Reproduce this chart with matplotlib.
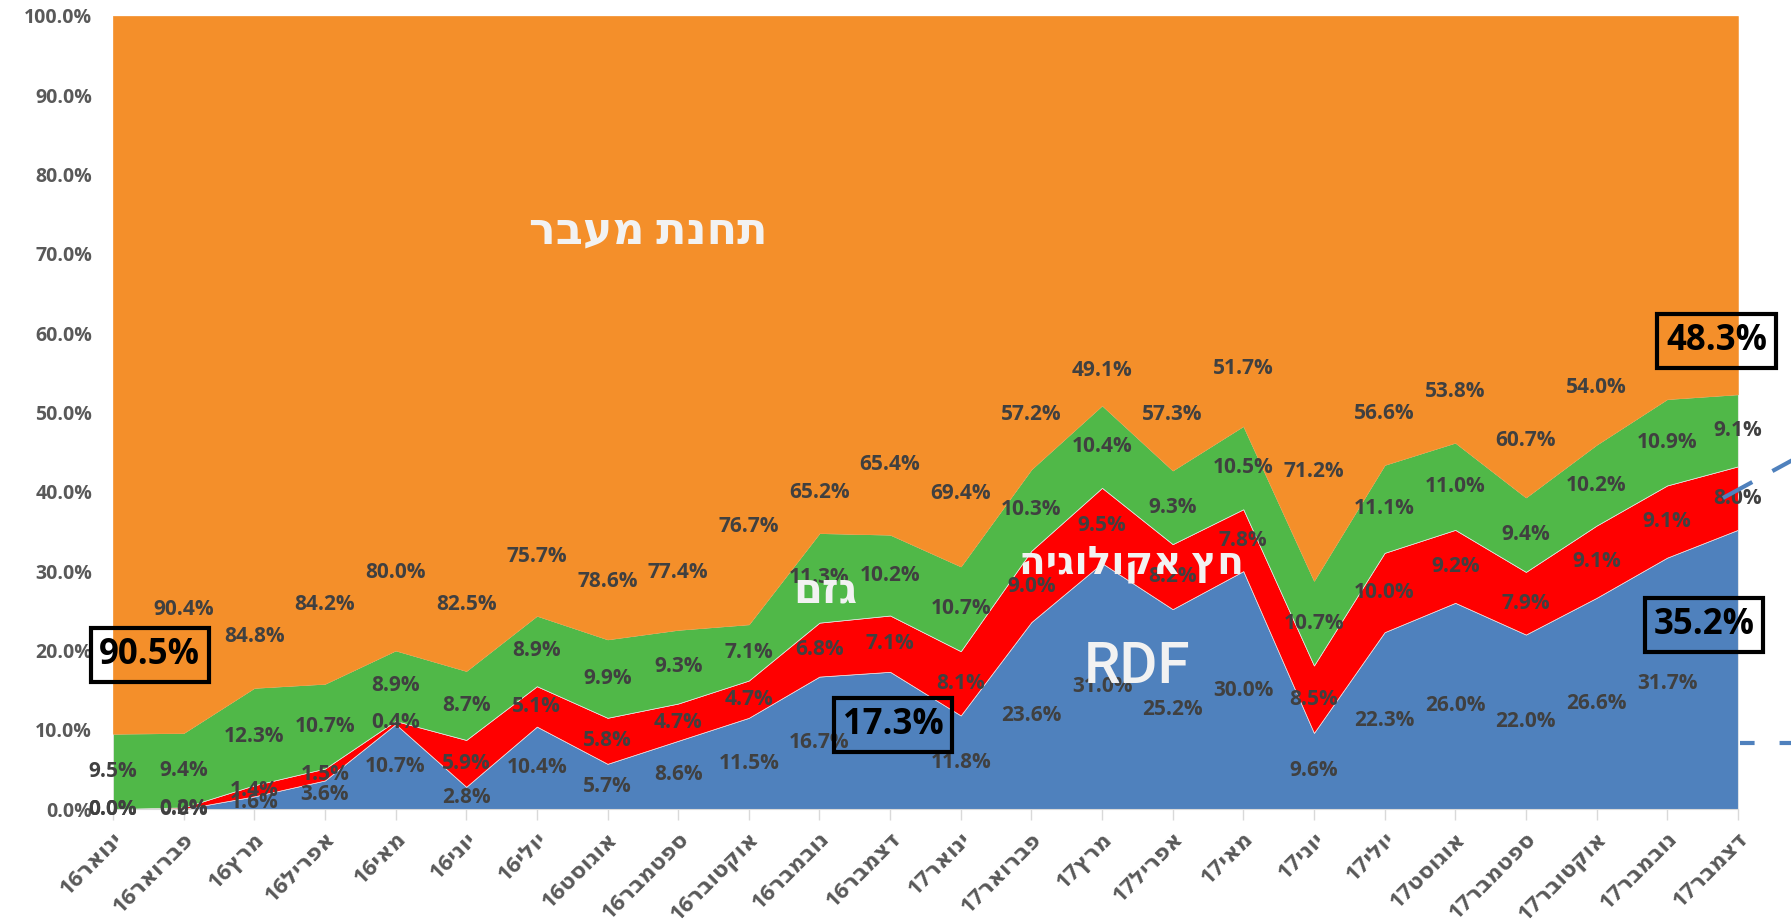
import numpy as np
import matplotlib
matplotlib.use("Agg")
import matplotlib.pyplot as plt
from matplotlib.lines import Line2D

plt.rcParams['font.family'] = ['Open Sans', 'DejaVu Sans']

# months (Hebrew), shown as year + month name
monthNames = ['ינואר', 'פברואר', 'מרץ', 'אפריל', 'מאי', 'יוני', 'יולי',
              'אוגוסט', 'ספטמבר', 'אוקטובר', 'נובמבר', 'דצמבר']
years = ['16', '17']

# share of each destination, percent
rdf = [0.0, 0.0, 1.6, 3.6, 10.7, 2.8, 10.4, 5.7, 8.6, 11.5, 16.7, 17.3,
       11.8, 23.6, 31.0, 25.2, 30.0, 9.6, 22.3, 26.0, 22.0, 26.6, 31.7, 35.2]
hetz = [0.0, 0.2, 1.4, 1.5, 0.4, 5.9, 5.1, 5.8, 4.7, 4.7, 6.8, 7.1,
        8.1, 9.0, 9.5, 8.2, 7.8, 8.5, 10.0, 9.2, 7.9, 9.1, 9.1, 8.0]
gezem = [9.5, 9.4, 12.3, 10.7, 8.9, 8.7, 8.9, 9.9, 9.3, 7.1, 11.3, 10.2,
         10.7, 10.3, 10.4, 9.3, 10.5, 10.7, 11.1, 11.0, 9.4, 10.2, 10.9, 9.1]
maavar = [90.5, 90.4, 84.8, 84.2, 80.0, 82.5, 75.7, 78.6, 77.4, 76.7, 65.2, 65.4,
          69.4, 57.2, 49.1, 57.3, 51.7, 71.2, 56.6, 53.8, 60.7, 54.0, 48.3, 47.7]

seriesNames = ['RDF', 'חץ אקולוגיה', 'גזם', 'תחנת מעבר']
colors = ['#4F81BD', '#FF0000', '#50B848', '#F48F2A']

# where the orange labels were dragged to (y in %), None = not shown as plain label
orangeLabelY = [None, 25.2, 21.8, 25.8, 29.8, 25.8, 31.8, 28.7, 29.8, 35.6, 39.9, 43.5,
                39.8, 49.7, 55.3, 49.7, 55.5, 42.5, 49.9, 52.6, 46.5, 53.2, None, None]
# highlighted labels: (series index, month index) -> position (x, y%)
boxed = {(3, 0): (0.52, 19.4), (0, 11): (11.04, 10.6),
         (0, 23): (22.52, 23.2), (3, 22): (22.70, 59.0)}


def heb(s):
    # matplotlib has no bidi support, so flip Hebrew to visual order
    return s[::-1]


def main():
    data = np.array([rdf, hetz, gezem, maavar])
    n = data.shape[1]
    x = np.arange(n)
    shares = data / data.sum(axis=0) * 100
    tops = np.cumsum(shares, axis=0)
    bottoms = tops - shares

    fig = plt.figure(figsize=(17.91, 9.23), dpi=100)
    ax = fig.add_axes([0.0631, 0.1235, 0.9072, 0.8592])

    for i in range(4):
        ax.fill_between(x, bottoms[i], tops[i], color=colors[i], lw=0.5,
                        edgecolor='#E8E8E8' if i < 3 else colors[i], zorder=2)

    ax.set_xlim(0, n - 1)
    ax.set_ylim(0, 100)

    # data labels
    for i in range(4):
        for j in range(n):
            if (i, j) in boxed:
                continue
            if i == 3:
                if orangeLabelY[j] is None:
                    continue
                y = orangeLabelY[j]
            else:
                y = (bottoms[i][j] + tops[i][j]) / 2
            ax.text(j, y, '{:.1f}%'.format(data[i][j]), ha='center', va='center',
                    fontsize=15, fontweight='bold', color='#404040', zorder=4,
                    clip_on=False)

    for (i, j), (bx, by) in boxed.items():
        ax.text(bx, by, '{:.1f}%'.format(data[i][j]), ha='center', va='center',
                fontsize=25, fontweight='bold', color='black', zorder=5,
                bbox=dict(boxstyle='square,pad=0.25', fc='none', ec='black', lw=3))

    # series names written on the areas
    bigText = dict(color='#F2F2F2', fontweight='bold', ha='center', va='center', zorder=6)
    ax.text(7.57, 72.8, heb(seriesNames[3]), fontsize=32, **bigText)
    ax.text(10.09, 27.4, heb(seriesNames[2]), fontsize=30, **bigText)
    ax.text(14.41, 31.0, heb(seriesNames[1]), fontsize=28, **bigText)
    ax.text(14.49, 17.8, seriesNames[0], fontsize=42, color='#F2F2F2',
            family=['Roboto', 'DejaVu Sans'],
            ha='center', va='center', zorder=6, fontweight='medium')

    ax.set_yticks(np.arange(0, 101, 10))
    ax.set_yticklabels(['{:.1f}%'.format(v) for v in np.arange(0, 101, 10)])
    ax.set_xticks(x)
    ax.set_xticklabels([y + heb(m) for y in years for m in monthNames],
                       rotation=45, ha='right', rotation_mode='anchor')
    ax.tick_params(axis='y', length=0, pad=15, labelsize=14, labelcolor='#595959')
    ax.tick_params(axis='x', length=8, width=1, color='#D9D9D9', pad=6,
                   labelsize=16, labelcolor='#595959')
    for lab in ax.get_xticklabels() + ax.get_yticklabels():
        lab.set_fontweight('bold')
    for side in ['top', 'right', 'left']:
        ax.spines[side].set_visible(False)
    ax.spines['bottom'].set_color('#D9D9D9')

    # stray dashed connector lines at the right edge
    W, H = 1791, 923
    diag = Line2D([1723 / W, 1800 / W], [1 - 498 / H, 1 - 456 / H], color='#4F81BD',
                  lw=3, linestyle=(0, (8, 5.5)), transform=fig.transFigure, zorder=10)
    horiz = Line2D([1740 / W, 1800 / W], [1 - 743 / H, 1 - 743 / H], color='#4F81BD',
                   lw=3, linestyle=(0, (3.5, 6)), transform=fig.transFigure, zorder=10)
    fig.add_artist(diag)
    fig.add_artist(horiz)

    fig.savefig('out.png', dpi=100)


if __name__ == "__main__":
    main()
